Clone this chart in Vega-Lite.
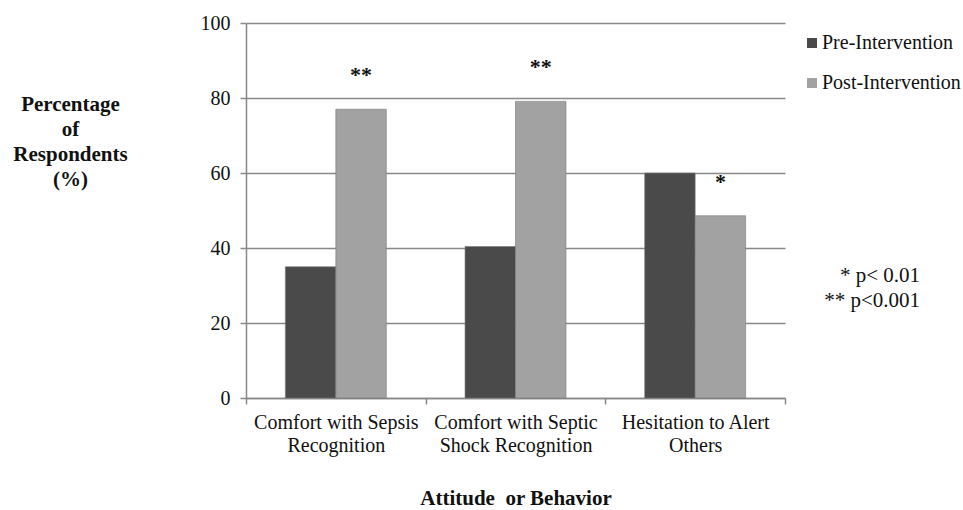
{
  "$schema": "https://vega.github.io/schema/vega-lite/v6.json",
  "width": 539,
  "height": 375,
  "autosize": {"type": "none"},
  "padding": {"left": 246, "top": 23, "right": 178, "bottom": 112},
  "background": "white",
  "title": {
    "text": ["* p< 0.01", "** p<0.001"],
    "orient": "top",
    "anchor": "end",
    "frame": "group",
    "align": "right",
    "baseline": "top",
    "dx": 135,
    "dy": 302,
    "font": "Liberation Serif",
    "fontSize": 21,
    "fontWeight": "normal",
    "color": "#111",
    "lineHeight": 25
  },
  "config": {
    "view": {"stroke": null},
    "font": "Liberation Serif"
  },
  "data": {
    "values": [
      {"cat": "Comfort with Sepsis Recognition", "group": "Pre-Intervention", "value": 35, "sig": ""},
      {"cat": "Comfort with Sepsis Recognition", "group": "Post-Intervention", "value": 77, "sig": "**"},
      {"cat": "Comfort with Septic Shock Recognition", "group": "Pre-Intervention", "value": 40.4, "sig": ""},
      {"cat": "Comfort with Septic Shock Recognition", "group": "Post-Intervention", "value": 79.1, "sig": "**"},
      {"cat": "Hesitation to Alert Others", "group": "Pre-Intervention", "value": 60, "sig": ""},
      {"cat": "Hesitation to Alert Others", "group": "Post-Intervention", "value": 48.6, "sig": "*"}
    ]
  },
  "encoding": {
    "x": {
      "field": "cat",
      "type": "nominal",
      "sort": null,
      "scale": {"paddingInner": 0, "paddingOuter": 0},
      "axis": {
        "title": "Attitude \u00a0or Behavior",
        "titleFont": "Liberation Serif",
        "titleFontSize": 21,
        "titleFontWeight": "bold",
        "titleColor": "#111",
        "titlePadding": 32,
        "labelAngle": 0,
        "labelFont": "Liberation Serif",
        "labelFontSize": 20,
        "labelColor": "#111",
        "labelPadding": 8,
        "labelLineHeight": 23,
        "labelExpr": "datum.label == 'Comfort with Sepsis Recognition' ? ['Comfort with Sepsis', 'Recognition'] : datum.label == 'Comfort with Septic Shock Recognition' ? ['Comfort with Septic', 'Shock Recognition'] : datum.label == 'Hesitation to Alert Others' ? ['Hesitation to Alert', 'Others'] : ''",
        "tickBand": "extent",
        "tickSize": 6,
        "tickColor": "#888",
        "tickWidth": 1.5,
        "domainColor": "#888",
        "domainWidth": 1.5,
        "grid": false
      }
    },
    "xOffset": {
      "field": "group",
      "type": "nominal",
      "sort": ["Pre-Intervention", "Post-Intervention"],
      "scale": {"paddingInner": 0, "paddingOuter": 0.78}
    },
    "y": {
      "field": "value",
      "type": "quantitative",
      "scale": {"domain": [0, 100]},
      "axis": {
        "title": ["Percentage", "of", "Respondents", "(%)"],
        "titleAngle": 0,
        "titleAlign": "center",
        "titleBaseline": "top",
        "titleX": -176,
        "titleY": 70,
        "titleFont": "Liberation Serif",
        "titleFontSize": 21,
        "titleFontWeight": "bold",
        "titleColor": "#111",
        "titleLineHeight": 25,
        "values": [0, 20, 40, 60, 80, 100],
        "labelFont": "Liberation Serif",
        "labelFontSize": 20,
        "labelColor": "#111",
        "labelPadding": 10,
        "tickSize": 6,
        "tickColor": "#888",
        "tickWidth": 1.5,
        "domainColor": "#888",
        "domainWidth": 1.5,
        "grid": true,
        "gridColor": "#888",
        "gridWidth": 1.5
      }
    }
  },
  "layer": [
    {
      "mark": {"type": "bar", "stroke": "#777", "strokeWidth": 0.6},
      "encoding": {
        "color": {
          "field": "group",
          "type": "nominal",
          "sort": ["Pre-Intervention", "Post-Intervention"],
          "scale": {"domain": ["Pre-Intervention", "Post-Intervention"], "range": ["#4a4a4a", "#a2a2a2"]},
          "legend": {
            "title": null,
            "orient": "none",
            "legendX": 556,
            "legendY": 10,
            "symbolType": "square",
            "symbolSize": 100,
            "symbolStrokeWidth": 0,
            "labelFont": "Liberation Serif",
            "labelFontSize": 20,
            "labelColor": "#111",
            "labelOffset": 0,
            "labelLimit": 200,
            "rowPadding": 20
          }
        }
      }
    },
    {
      "transform": [{"filter": "datum.sig != ''"}],
      "mark": {"type": "text", "dy": -34, "font": "Liberation Serif", "fontSize": 22, "fontWeight": "bold", "color": "#111"},
      "encoding": {
        "text": {"field": "sig"}
      }
    }
  ]
}
